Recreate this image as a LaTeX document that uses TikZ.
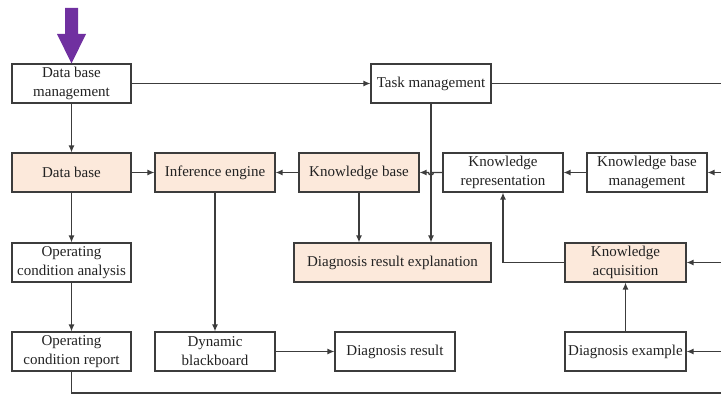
\documentclass[tikz,border=0pt]{standalone}
\usepackage{fontspec}
\setmainfont{Liberation Serif}
\usetikzlibrary{arrows.meta}
\definecolor{peach}{HTML}{FCE9DB}
\definecolor{edge}{HTML}{3C3C3C}
\definecolor{ink}{HTML}{222222}
\definecolor{violet}{HTML}{7030A0}
\begin{document}
\begin{tikzpicture}[x=1pt,y=-1pt,
  box/.style={draw=edge,line width=1.1pt,fill=white,text=ink,align=center,
    inner sep=0pt,minimum height=39pt,
    font=\fontsize{15}{19}\selectfont},
  hot/.style={box,fill=peach},
  link/.style={draw=edge,line width=1.3pt},
  arr/.style={link,-{Latex[length=7pt,width=6pt]}}]
\useasboundingbox (0,0) rectangle (721,396);

% blocks
\node[box,minimum width=119pt] (dbm) at (71.5,83.5) {Data base\\management};
\node[box,minimum width=120pt] (task) at (431,83.5) {Task management};
\node[hot,minimum width=119pt] (db) at (71.5,172.5) {Data base};
\node[hot,minimum width=120pt] (inf) at (215,172.5) {Inference engine};
\node[hot,minimum width=120pt] (kb) at (359,172.5) {Knowledge base};
\node[box,minimum width=120pt] (kr) at (503,172.5) {Knowledge\\representation};
\node[box,minimum width=120pt] (kbm) at (647,172.5) {Knowledge base\\management};
\node[box,minimum width=119pt] (oca) at (71.5,262.5) {Operating\\condition analysis};
\node[hot,minimum width=197pt] (dre) at (392.5,262.5) {Diagnosis result explanation};
\node[hot,minimum width=121pt] (ka) at (625.5,262.5) {Knowledge\\acquisition};
\node[box,minimum width=119pt] (ocr) at (71.5,351.5) {Operating\\condition report};
\node[box,minimum width=120pt] (dyn) at (215,351.5) {Dynamic\\blackboard};
\node[box,minimum width=120pt] (dr) at (395,351.5) {Diagnosis result};
\node[box,minimum width=121pt] (de) at (625.5,351.5) {Diagnosis example};

% loose ends running off the right side
\coordinate (rTask) at (722,83.5);
\coordinate (rKbm) at (722,172.5);
\coordinate (rKa) at (722,262.5);
\coordinate (rDe) at (722,351.5);
\coordinate (rBot) at (722,393);

% entry arrow
\fill[violet] (65,8) -- (78,8) -- (78,34) -- (86,34) -- (71.5,63.5)
  -- (57,34) -- (65,34) -- cycle;

% connectors
\draw[arr] (dbm) -- (task);
\draw[link] (task) -- (rTask);
\draw[arr] (dbm) -- (db);
\draw[arr] (db) -- (inf);
\draw[arr] (kb) -- (inf);
\draw[arr] (kr.west) -- (task.south |- kr.west) ++(2.5,0)
  arc[start angle=0,end angle=180,radius=2.5] -- (kb.east);
\draw[arr] (task) -- (task.south |- dre.north);
\draw[arr] (kb) -- (kb.south |- dre.north);
\draw[arr] (inf) -- (dyn);
\draw[arr] (dyn) -- (dr);
\draw[arr] (db) -- (oca);
\draw[arr] (oca) -- (ocr);
\draw[link] (ocr.south) |- (rBot);
\draw[arr] (kbm) -- (kr);
\draw[arr] (rKbm) -- (kbm);
\draw[arr] (ka.west) -| (kr.south);
\draw[arr] (de) -- (ka);
\draw[arr] (rKa) -- (ka);
\draw[arr] (rDe) -- (de);
\end{tikzpicture}
\end{document}
